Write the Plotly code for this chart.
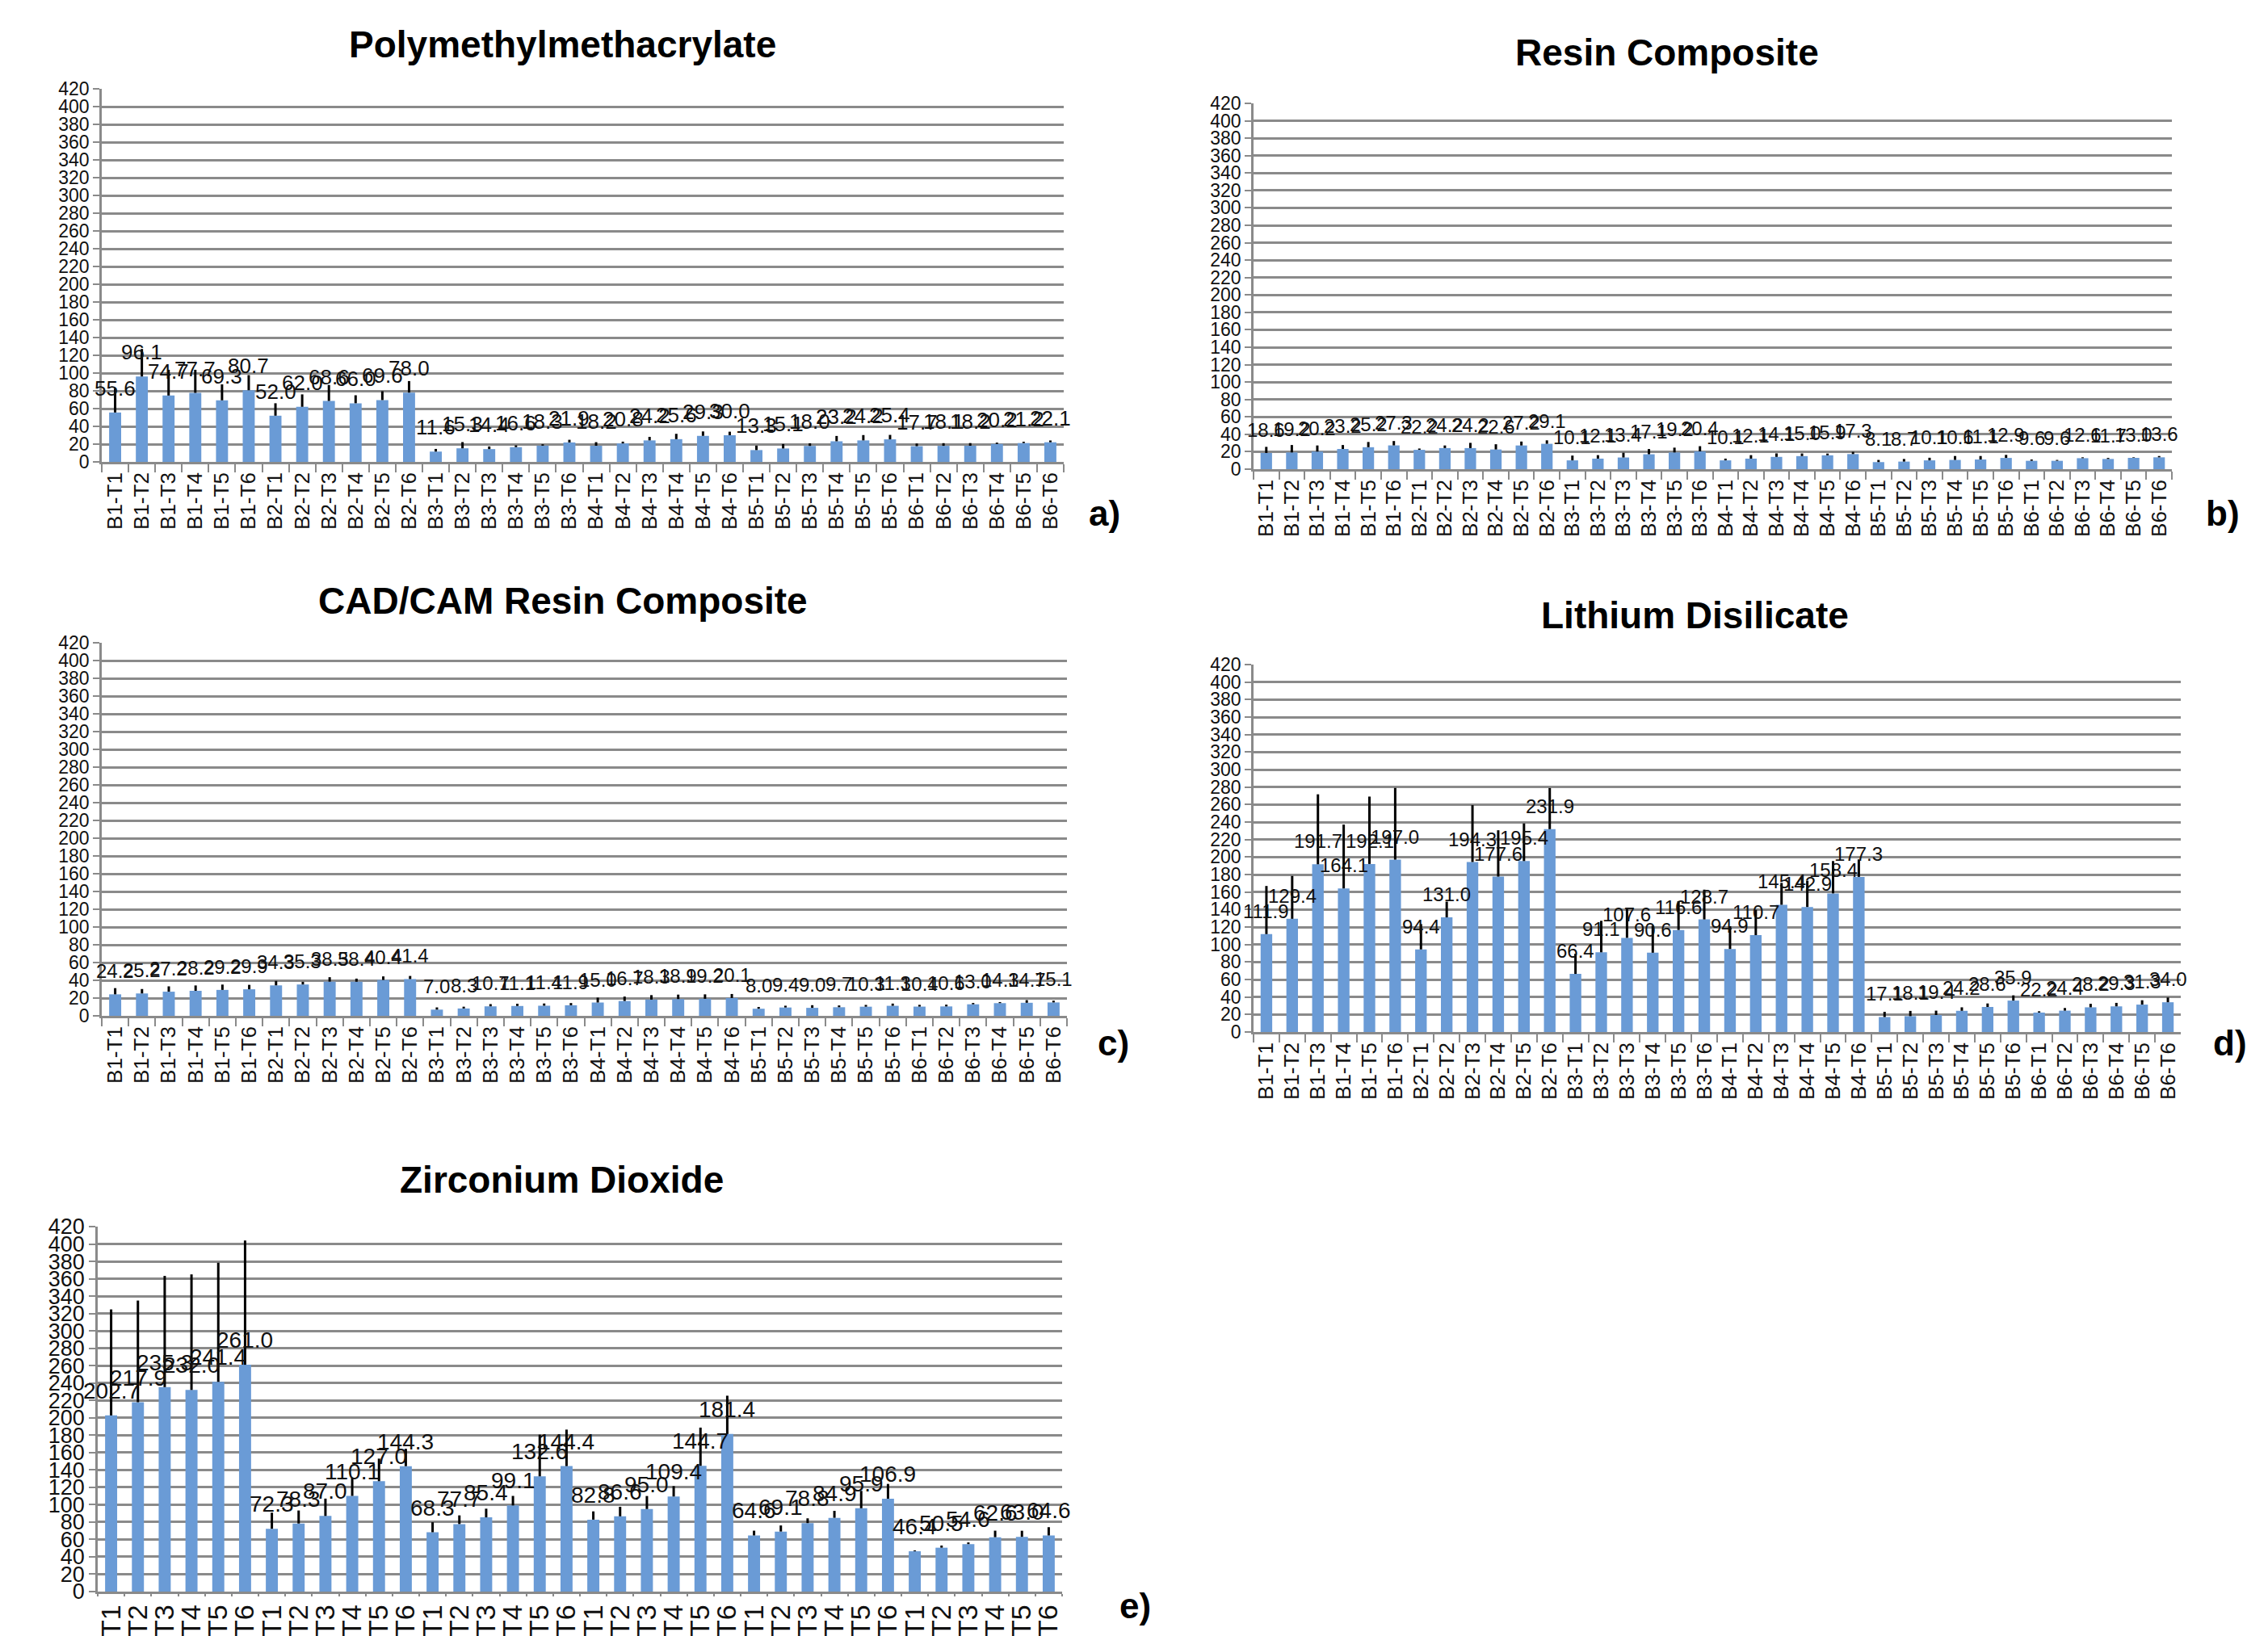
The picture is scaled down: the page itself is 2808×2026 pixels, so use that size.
import plotly.graph_objects as go

W, H = 2808, 2026

blocks = ["B1", "B2", "B3", "B4", "B5", "B6"]
times = ["T1", "T2", "T3", "T4", "T5", "T6"]
categories = [f"{b}-{t}" for b in blocks for t in times]

y_ticks = list(range(0, 421, 20))

pmma = [55.6, 96.1, 74.7, 77.7, 69.3, 80.7, 52.0, 62.0, 68.6, 66.0, 69.6, 78.0,
        11.6, 15.3, 14.4, 16.6, 18.3, 21.9, 18.2, 20.8, 24.2, 25.6, 29.3, 30.0,
        13.3, 15.1, 18.0, 23.2, 24.2, 25.4, 17.7, 18.1, 18.2, 20.2, 21.2, 22.1]
pmma_err = [27, 31, 29, 26, 18, 17, 14, 14, 18, 9, 10, 13,
            3, 7, 3, 2, 1.5, 3, 4, 2, 4, 6, 5, 4,
            5, 5, 3, 6, 6, 5, 3, 3, 3, 1.5, 1.5, 2]

resin = [18.6, 19.2, 20.2, 23.2, 25.2, 27.3, 22.2, 24.2, 24.2, 22.6, 27.2, 29.1,
         10.1, 12.1, 13.4, 17.1, 19.2, 20.4, 10.1, 12.1, 14.1, 15.0, 15.9, 17.3,
         8.1, 8.7, 10.1, 10.6, 11.1, 12.9, 9.6, 9.6, 12.6, 11.7, 13.0, 13.6]
resin_err = [7, 8.5, 7, 4.5, 6, 5, 1.5, 3, 6, 6, 4.5, 4,
             5.5, 4, 5.5, 6, 5.5, 6, 2, 4, 4, 3, 2, 2.5,
             2.5, 3, 3, 4.5, 4, 3.5, 1.5, 1, 1, 1.2, 0.6, 1.5]

cadcam = [24.2, 25.2, 27.2, 28.2, 29.2, 29.9, 34.3, 35.3, 38.5, 38.4, 40.4, 41.4,
          7.0, 8.3, 10.7, 11.1, 11.4, 11.9, 15.0, 16.7, 18.3, 18.9, 19.2, 20.1,
          8.0, 9.4, 9.0, 9.7, 10.3, 11.3, 10.4, 10.6, 13.0, 14.3, 14.7, 15.1]
cadcam_err = [7, 5, 6, 6, 6, 5, 5, 3, 5, 3.5, 4, 3.5,
              2.5, 2, 2.5, 2.5, 2.5, 2.5, 5.5, 5, 5, 5, 5, 4.5,
              2, 2, 3, 2, 2, 2.5, 2, 2, 1.5, 1.2, 3, 2]

lithium = [111.9, 129.4, 191.7, 164.1, 192.1, 197.0, 94.4, 131.0, 194.3, 177.6, 195.4, 231.9,
           66.4, 91.1, 107.6, 90.6, 116.6, 128.7, 94.9, 110.7, 145.4, 142.9, 158.4, 177.3,
           17.1, 18.1, 19.4, 24.2, 28.6, 35.9, 22.2, 24.4, 28.2, 29.3, 31.3, 34.0]
lithium_err = [55, 49, 80, 73, 77, 82, 29, 18, 65, 53, 43, 47,
               23, 36, 33, 31, 33, 34, 26, 29, 25, 30, 37, 20,
               6, 6, 5, 4, 4, 6, 1.5, 3, 4, 4, 5, 5.5]

zirconia = [202.7, 217.9, 235.3, 232.0, 241.4, 261.0, 72.3, 78.3, 87.0, 110.1, 127.0, 144.3,
            68.3, 77.7, 85.4, 99.1, 132.6, 144.4, 82.8, 86.6, 95.0, 109.4, 144.7, 181.4,
            64.6, 69.1, 78.8, 84.9, 95.9, 106.9, 46.4, 50.5, 54.6, 62.6, 63.0, 64.6]
zirconia_err = [122, 117, 128, 133, 137, 143, 18.5, 15, 20, 21, 26, 20,
                11.5, 10, 10, 11, 48, 42, 9.5, 11, 15, 12, 44, 44,
                5.5, 7, 5.5, 8, 20, 17, 1, 2.5, 2, 7.5, 7, 9.5]

NARROW = "Liberation Sans Narrow, Arial Narrow, Arial"
FONT = "Arial, Liberation Sans, sans-serif"

panels = [
    dict(title="Polymethylmethacrylate", vals=pmma, err=pmma_err, letter="a)",
         px=(118, 1309), py=(102, 564), title_xy=(688, 47), letter_xy=(1359, 628),
         ytf=dict(size=23, family=NARROW), xtf=26, xtl=10, lab=26),
    dict(title="Resin Composite", vals=resin, err=resin_err, letter="b)",
         px=(1544, 2681), py=(120, 573), title_xy=(2056, 57), letter_xy=(2744, 628),
         ytf=dict(size=23, family=NARROW), xtf=26, xtl=10, lab=24),
    dict(title="CAD/CAM Resin Composite", vals=cadcam, err=cadcam_err, letter="c)",
         px=(118, 1313), py=(788, 1250), title_xy=(689, 736), letter_xy=(1370, 1283),
         ytf=dict(size=23, family=NARROW), xtf=26, xtl=10, lab=24),
    dict(title="Lithium Disilicate", vals=lithium, err=lithium_err, letter="d)",
         px=(1544, 2692), py=(815, 1270), title_xy=(2090, 754), letter_xy=(2753, 1283),
         ytf=dict(size=23, family=NARROW), xtf=26, xtl=10, lab=24),
    dict(title="Zirconium Dioxide", vals=zirconia, err=zirconia_err, letter="e)",
         px=(113, 1307), py=(1511, 1963), title_xy=(687, 1453), letter_xy=(1397, 1980),
         ytf=dict(size=27, family=FONT), xtf=34, xtl=3, lab=28),
]

BAR = "#6a9bd6"
GRID = "#8a8a8a"

fig = go.Figure()
annotations = []
layout_axes = {}

for i, p in enumerate(panels, start=1):
    xa = "x" if i == 1 else f"x{i}"
    ya = "y" if i == 1 else f"y{i}"
    fig.add_trace(go.Bar(
        x=categories, y=p["vals"], xaxis=xa, yaxis=ya, width=0.45,
        marker=dict(color=BAR, line=dict(width=0)),
        error_y=dict(type="data", symmetric=False, array=p["err"],
                     arrayminus=[0] * len(p["err"]), color="black",
                     thickness=3, width=0),
        showlegend=False, hoverinfo="x+y",
    ))
    xd = [p["px"][0] / W, p["px"][1] / W]
    yd = [1 - p["py"][1] / H, 1 - p["py"][0] / H]
    layout_axes["xaxis" if i == 1 else f"xaxis{i}"] = dict(
        domain=xd, anchor=ya, type="category", range=[-0.5, 35.5],
        tickmode="array", tickvals=categories, ticktext=categories,
        showline=True, linecolor=GRID, linewidth=2.5, showgrid=False,
        ticks="outside", tickson="boundaries", ticklen=p["xtl"], tickcolor=GRID, tickwidth=2,
        tickangle=-90, tickfont=dict(size=p["xtf"], family=FONT, color="#111"),
        automargin=False, fixedrange=True,
    )
    layout_axes["yaxis" if i == 1 else f"yaxis{i}"] = dict(
        domain=yd, anchor=xa, range=[0, 420], tickmode="array", tickvals=y_ticks,
        showline=True, linecolor=GRID, linewidth=2.5,
        showgrid=True, gridcolor=GRID, gridwidth=2.5, zeroline=False,
        ticks="outside", ticklen=8, tickcolor=GRID, tickwidth=2,
        tickfont=dict(color="#111", **p["ytf"]),
        automargin=False, fixedrange=True,
    )
    for c, v in zip(categories, p["vals"]):
        annotations.append(dict(
            x=c, y=v, xref=xa, yref=ya, text=f"{v:.1f}", showarrow=False,
            yanchor="bottom", xanchor="center", yshift=13,
            font=dict(size=p["lab"], family=FONT, color="#111"),
        ))
    annotations.append(dict(
        x=p["title_xy"][0] / W, y=1 - p["title_xy"][1] / H, xref="paper", yref="paper",
        text=f"<b>{p['title']}</b>", showarrow=False, xanchor="center", yanchor="middle",
        font=dict(size=46, family=FONT, color="black"),
    ))
    annotations.append(dict(
        x=p["letter_xy"][0] / W, y=1 - p["letter_xy"][1] / H, xref="paper", yref="paper",
        text=f"<b>{p['letter']}</b>", showarrow=False, xanchor="center", yanchor="middle",
        font=dict(size=44, family=FONT, color="black"),
    ))

fig.update_layout(
    width=W, height=H, template="none",
    margin=dict(l=0, r=0, t=0, b=0),
    paper_bgcolor="white", plot_bgcolor="white",
    annotations=annotations, showlegend=False,
    font=dict(family=FONT),
    **layout_axes,
)

fig.write_html("out.html")
